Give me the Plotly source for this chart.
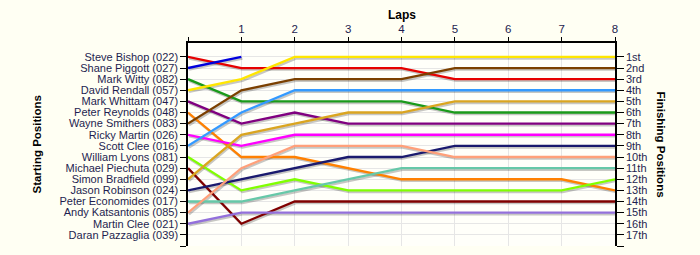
import plotly.graph_objects as go

laps = [0, 1, 2, 3, 4, 5, 6, 7, 8]
lap_labels = ["", "1", "2", "3", "4", "5", "6", "7", "8"]

drivers = [
    "Steve Bishop (022)", "Shane Piggott (027)", "Mark Witty (082)", "David Rendall (057)",
    "Mark Whittam (047)", "Peter Reynolds (048)", "Wayne Smithers (083)", "Ricky Martin (026)",
    "Scott Clee (016)", "William Lyons (081)", "Michael Piechuta (029)", "Simon Bradfield (099)",
    "Jason Robinson (024)", "Peter Economides (017)", "Andy Katsantonis (085)", "Martin Clee (021)",
    "Daran Pazzaglia (039)",
]
finish_labels = ["1st", "2nd", "3rd", "4th", "5th", "6th", "7th", "8th", "9th", "10th",
                 "11th", "12th", "13th", "14th", "15th", "16th", "17th"]

# positions per lap (lap 0 = starting grid)
pos_bishop     = [1, 2, 2, 2, 2, 3, 3, 3, 3]
pos_piggott    = [2, 1, None, None, None, None, None, None, None]
pos_witty      = [3, 5, 5, 5, 5, 6, 6, 6, 6]
pos_rendall    = [4, 3, 1, 1, 1, 1, 1, 1, 1]
pos_whittam    = [5, 7, 6, 7, 7, 7, 7, 7, 7]
pos_reynolds   = [6, 10, 10, 11, 12, 12, 12, 12, 13]
pos_smithers   = [7, 4, 3, 3, 3, 2, 2, 2, 2]
pos_martin     = [8, 9, 8, 8, 8, 8, 8, 8, 8]
pos_sclee      = [9, 6, 4, 4, 4, 4, 4, 4, 4]
pos_lyons      = [10, 13, 12, 13, 13, 13, 13, 13, 12]
pos_piechuta   = [11, 16, 14, 14, 14, 14, 14, 14, 14]
pos_bradfield  = [12, 8, 7, 6, 6, 5, 5, 5, 5]
pos_robinson   = [13, 12, 11, 10, 10, 9, 9, 9, 9]
pos_economides = [14, 14, 13, 12, 11, 11, 11, 11, 11]
pos_katsant    = [15, 11, 9, 9, 9, 10, 10, 10, 10]
pos_mclee      = [16, 15, 15, 15, 15, 15, 15, 15, 15]

series = [pos_bishop, pos_piggott, pos_witty, pos_rendall, pos_whittam, pos_reynolds,
          pos_smithers, pos_martin, pos_sclee, pos_lyons, pos_piechuta, pos_bradfield,
          pos_robinson, pos_economides, pos_katsant, pos_mclee]
colors = ["#e60000", "#0000dd", "#1a9a1a", "#ffe600", "#800080", "#ff8000",
          "#7b4000", "#ff00ff", "#3399ff", "#80ff00", "#800000", "#daa520",
          "#1a1a6e", "#66c8a8", "#ffa07a", "#9370db"]

fig = go.Figure()

# shadows
for s in series:
    fig.add_trace(go.Scatter(
        x=[l + 0.02 for l in laps], y=[None if v is None else v + 0.15 for v in s],
        mode="lines", line=dict(color="rgba(0,0,0,0.22)", width=2.3),
        hoverinfo="skip", showlegend=False))
for s, c in zip(series, colors):
    fig.add_trace(go.Scatter(
        x=laps, y=s, mode="lines", line=dict(color=c, width=2.3),
        hoverinfo="skip", showlegend=False))

# invisible trace on right axis
fig.add_trace(go.Scatter(x=[0], y=[1], yaxis="y2", mode="markers",
                         marker=dict(opacity=0), hoverinfo="skip", showlegend=False))

font_family = "Liberation Sans, Arial, sans-serif"
label_color = "#1e1e50"
ypos = list(range(1, 19))

fig.update_layout(
    width=700, height=255,
    margin=dict(l=188, r=85, t=43, b=9),
    paper_bgcolor="#fffff3",
    plot_bgcolor="#fffffa",
    font=dict(family=font_family, size=11, color=label_color),
    showlegend=False,
    xaxis=dict(
        side="top", range=[0, 8], tickvals=laps, ticktext=lap_labels,
        ticks="outside", ticklen=4, tickcolor="black",
        showline=True, linecolor="black", linewidth=1.5, mirror=False,
        showgrid=True, gridcolor="#e6e6e6", gridwidth=1, zeroline=False,
        tickfont=dict(size=11.5, color=label_color),
    ),
    yaxis=dict(
        range=[18, -0.25], tickvals=ypos, ticktext=drivers + [""],
        ticks="outside", ticklen=6, tickcolor="black",
        showline=True, linecolor="black", linewidth=1.5,
        showgrid=True, gridcolor="#e6e6e6", gridwidth=1, zeroline=False,
        tickfont=dict(size=11, color=label_color),
    ),
    yaxis2=dict(
        range=[18, -0.25], overlaying="y", side="right",
        tickvals=ypos, ticktext=finish_labels + [""],
        ticks="outside", ticklen=7, tickcolor="black",
        showline=True, linecolor="black", linewidth=1.5,
        showgrid=False, zeroline=False,
        tickfont=dict(size=11, color=label_color),
    ),
    annotations=[
        dict(text="<b>Laps</b>", x=0.5, y=15, xref="paper", yref="paper", yanchor="middle",
             showarrow=False, font=dict(size=12, color="black"), xanchor="center"),
        dict(text="<b>Starting Positions</b>", x=28, y=0.5, xref="paper", yref="paper",
             showarrow=False, textangle=-90, font=dict(size=11.5, color="black")),
        dict(text="<b>Finishing Positions</b>", x=669, y=0.5, xref="paper", yref="paper",
             showarrow=False, textangle=90, font=dict(size=11.5, color="black")),
    ],
)

# position annotations in pixel terms via paper coords
plot_w = 700 - 188 - 85
plot_h = 255 - 43 - 9
fig.layout.annotations[0].y = 1 + (43 - 15) / plot_h
fig.layout.annotations[1].x = (28 - 188) / plot_w
fig.layout.annotations[2].x = (669 - 188) / plot_w

fig.write_html("out.html")
